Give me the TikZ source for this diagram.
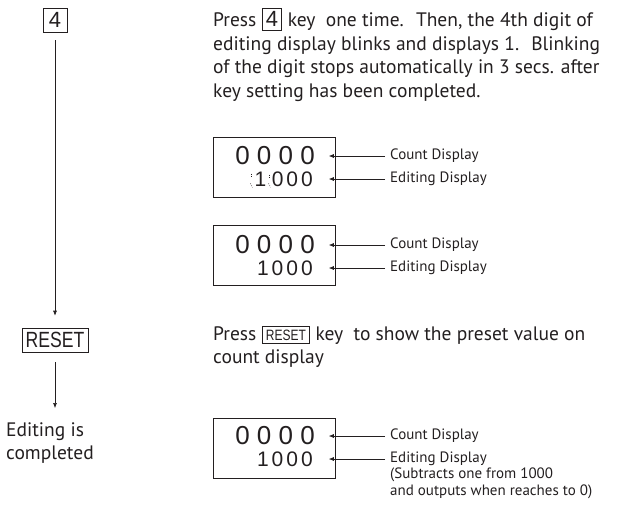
\documentclass[tikz,border=0pt]{standalone}
\usepackage{fontspec}
\setmainfont{PT Sans}
\newfontfamily\digitfont{Liberation Sans}
\usepackage{graphicx}
\usepackage{xcolor}
\usepackage{tikz}
\usetikzlibrary{arrows.meta}
\usetikzlibrary{positioning}
\definecolor{ink}{RGB}{35,31,32}
\tikzstyle{arrow} = [line width=0.6pt,draw=ink,-{Latex[length=5pt,width=4pt]}]
\tikzstyle{keybox} = [draw=ink,line width=0.6pt,inner sep=0pt,text=ink,font=\digitfont\fontsize{22}{22}\selectfont]
\tikzstyle{dispbox} = [draw=ink,line width=0.8pt,minimum width=122pt,minimum height=60pt,inner sep=0pt]
\tikzstyle{countrow} = [anchor=east,inner sep=0pt,text=ink,font=\digitfont\fontsize{26}{26}\selectfont]
\tikzstyle{editrow} = [anchor=east,inner sep=0pt,text=ink,font=\digitfont\fontsize{21}{21}\selectfont]
\tikzstyle{dsplabel} = [anchor=west,inner sep=0pt,text=ink,align=left,font=\fontsize{15}{17}\selectfont]
\tikzstyle{para} = [anchor=north west,inner sep=0pt,text=ink,align=left,font=\fontsize{19.5}{23.5}\selectfont]
\tikzstyle{blink} = [line width=0.6pt,draw=ink,dash pattern=on 0.8pt off 1.4pt]
% key drawn inside the text
\newcommand{\keyin}[2][22]{\hspace{6pt}{\setlength{\fboxsep}{3pt}\setlength{\fboxrule}{0.6pt}%
  \fbox{\digitfont\fontsize{#1}{#1}\selectfont #2}}\hspace{6pt}}

\begin{document}
\begin{tikzpicture}[x=1pt,y=-1pt]
\useasboundingbox (0,0) rectangle (626,507);

% left column
\node[keybox,minimum width=24pt,minimum height=24pt] (key4) at (55,20) {4};
\node[keybox,minimum width=66pt,minimum height=24pt] (reset) at (55,340) {\scalebox{0.8}[1]{RESET}};
\node[para] (done) at (6,422) {Editing is\\completed};
\draw[arrow,shorten <=8pt,shorten >=12pt] (key4) -- (reset);
\draw[arrow,shorten <=10pt,shorten >=14pt] (reset) -- (reset |- done.north);

% text
\node[para] (txt1) at (213,8) {Press\keyin{4}key~ one time.~ Then, the 4th digit of\\
  editing display blinks and displays 1.~ Blinking\\
  of the digit stops automatically in 3 secs. after\\
  key setting has been completed.};
\node[para] (txt2) at (213,326) {Press\keyin[15]{\scalebox{0.8}[1]{RESET}}key~ to show the preset value on\\
  count display};

% display 1 (digit blinks)
\node[dispbox,anchor=north west] (dsp1) at (213,137) {};
\node[countrow] (cnt1) at (315,156) {0 0 0 0};
\node[editrow] (edt1) at (313,179) {0\kern3pt0\kern3pt0};
\node[editrow,left=5pt of edt1] (one1) {1};
\draw[blink] ([xshift=-3pt,yshift=-2pt]one1.north west) -- ([xshift=-3pt,yshift=2pt]one1.west);
\draw[blink] ([xshift=3pt,yshift=-3pt]one1.north east) -- ([xshift=3pt,yshift=1pt]one1.east);
\draw[blink] ([xshift=-4pt,yshift=3pt]one1.south west) -- ([xshift=-2pt,yshift=-1pt]one1.south west);
\draw[blink] ([xshift=2pt,yshift=3pt]one1.south east) -- ([xshift=4pt,yshift=-1pt]one1.south east);
\node[dsplabel] (lc1) at (390,156) {Count Display};
\node[dsplabel] (le1) at (390,179) {Editing Display};
\draw[arrow,shorten <=5pt,shorten >=-7pt] (lc1.west) -- (lc1.west -| dsp1.east);
\draw[arrow,shorten <=5pt,shorten >=-7pt] (le1.west) -- (le1.west -| dsp1.east);

% display 2
\node[dispbox,anchor=north west] (dsp2) at (213,225) {};
\node[countrow] (cnt2) at (315,245) {0 0 0 0};
\node[editrow] (edt2) at (313,268) {1\kern3pt0\kern3pt0\kern3pt0};
\node[dsplabel] (lc2) at (390,245) {Count Display};
\node[dsplabel] (le2) at (390,268) {Editing Display};
\draw[arrow,shorten <=5pt,shorten >=-7pt] (lc2.west) -- (lc2.west -| dsp2.east);
\draw[arrow,shorten <=5pt,shorten >=-7pt] (le2.west) -- (le2.west -| dsp2.east);

% display 3
\node[dispbox,anchor=north west] (dsp3) at (213,418) {};
\node[countrow] (cnt3) at (315,436) {0 0 0 0};
\node[editrow] (edt3) at (313,459) {1\kern3pt0\kern3pt0\kern3pt0};
\node[dsplabel] (lc3) at (390,436) {Count Display};
\node[dsplabel] (le3) at (390,459) {Editing Display};
\node[dsplabel,anchor=north west] (note3) at (390,468) {(Subtracts one from 1000\\and outputs when reaches to 0)};
\draw[arrow,shorten <=5pt,shorten >=-7pt] (lc3.west) -- (lc3.west -| dsp3.east);
\draw[arrow,shorten <=5pt,shorten >=-7pt] (le3.west) -- (le3.west -| dsp3.east);
\end{tikzpicture}
\end{document}
